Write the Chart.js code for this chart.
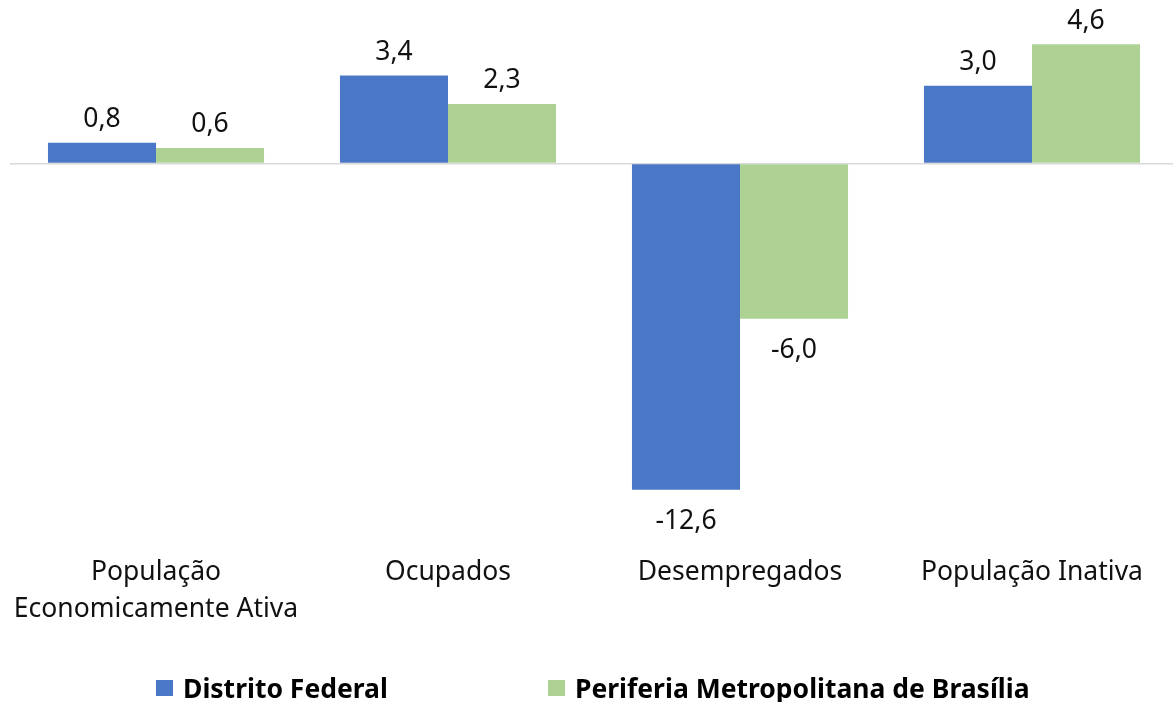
<!DOCTYPE html>
<html>
<head>
<meta charset="utf-8">
<script src="https://cdn.jsdelivr.net/npm/chart.js@4.4.1/dist/chart.umd.min.js"></script>
<style>
  html, body { margin: 0; padding: 0; background: #fff; overflow: hidden; }
  #wrap { position: relative; width: 1178px; height: 702px; }
  #legend { position: absolute; top: 672px; left: 0; width: 1173px; height: 30px;
    font-family: "Noto Sans", sans-serif; font-weight: bold; font-size: 26.5px; color: #000; }
  .item { position: absolute; top: 0; display: flex; align-items: center; height: 32px; }
  .box { width: 17px; height: 16px; margin-right: 10px; }
</style>
</head>
<body>
<div id="wrap">
  <canvas id="c"></canvas>
  <div id="legend"></div>
</div>
<script>
const categories = [["População", "Economicamente Ativa"], "Ocupados", "Desempregados", "População Inativa"];
const seriesNames = ["Distrito Federal", "Periferia Metropolitana de Brasília"];
const distritoFederal = [0.8, 3.4, -12.6, 3.0];
const periferia = [0.6, 2.3, -6.0, 4.6];
const colors = ["#4a78c6", "#aed294"];

const fontFamily = '"Noto Sans", sans-serif';

const valueLabels = {
  id: 'valueLabels',
  afterDatasetsDraw(chart) {
    const ctx = chart.ctx;
    ctx.save();
    ctx.font = '26.5px ' + fontFamily;
    ctx.fillStyle = '#111';
    ctx.textAlign = 'center';
    ctx.textBaseline = 'middle';
    chart.data.datasets.forEach((ds, di) => {
      const meta = chart.getDatasetMeta(di);
      meta.data.forEach((el, i) => {
        const v = ds.data[i];
        const txt = v.toFixed(1).replace('.', ',');
        const y = v >= 0 ? el.y - 23 : el.y + 32;
        ctx.fillText(txt, el.x, y);
      });
    });
    ctx.restore();
  }
};

new Chart(document.getElementById('c'), {
  type: 'bar',
  data: {
    labels: categories,
    datasets: [
      { label: seriesNames[0], data: distritoFederal, backgroundColor: colors[0] },
      { label: seriesNames[1], data: periferia, backgroundColor: colors[1] }
    ]
  },
  options: {
    responsive: true,
    maintainAspectRatio: false,
    animation: false,
    layout: { padding: { left: 10, right: 0, top: 34, bottom: 46 } },
    datasets: { bar: { categoryPercentage: 0.74, barPercentage: 1 } },
    plugins: { legend: { display: false }, tooltip: { enabled: false } },
    scales: {
      x: {
        grid: { display: false },
        border: { display: false },
        afterFit: (s) => { s.height = 130; s.paddingLeft = 0; s.paddingRight = 0; },
        ticks: {
          color: '#111',
          padding: 20,
          maxRotation: 0,
          autoSkip: false,
          font: { family: fontFamily, size: 26.5, lineHeight: 1.4 }
        }
      },
      y: {
        min: -14,
        max: 5,
        border: { display: false },
        ticks: { display: false, stepSize: 1 },
        grid: {
          drawTicks: false,
          color: (c) => c.tick && c.tick.value === 0 ? '#d9d9d9' : 'rgba(0,0,0,0)',
          lineWidth: 1.5
        }
      }
    }
  },
  plugins: [valueLabels]
});

const legend = document.getElementById('legend');
const lefts = [156, 548];
seriesNames.forEach((n, i) => {
  const it = document.createElement('div');
  it.className = 'item';
  it.style.left = lefts[i] + 'px';
  const b = document.createElement('span');
  b.className = 'box';
  b.style.background = colors[i];
  const t = document.createElement('span');
  t.textContent = n;
  it.appendChild(b); it.appendChild(t);
  legend.appendChild(it);
});
</script>
</body>
</html>
